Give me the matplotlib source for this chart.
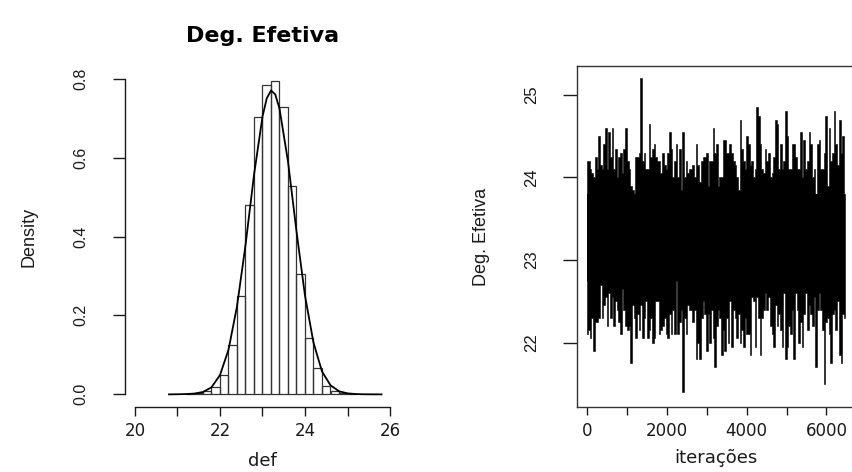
import numpy as np
import matplotlib
matplotlib.use("Agg")
import matplotlib.pyplot as plt
from matplotlib import font_manager

# histogram of the posterior sample (density scale, bins of width 0.2)
bin_inicio = [21.2, 21.4, 21.6, 21.8, 22.0, 22.2, 22.4, 22.6, 22.8, 23.0,
              23.2, 23.4, 23.6, 23.8, 24.0, 24.2, 24.4, 24.6, 24.8, 25.0]
densidade_hist = [0.001, 0.003, 0.009, 0.018, 0.049, 0.124, 0.249, 0.480, 0.703, 0.785,
                  0.793, 0.727, 0.528, 0.304, 0.144, 0.066, 0.022, 0.009, 0.003, 0.001]

# kernel density curve
dens_x = [20.8, 21.0, 21.2, 21.4, 21.6, 21.8, 22.0, 22.2, 22.4, 22.6, 22.8, 23.0,
          23.1, 23.2, 23.3, 23.4, 23.6, 23.8, 24.0, 24.2, 24.4, 24.6, 24.8, 25.0,
          25.2, 25.4, 25.8]
dens_y = [0.0, 0.0003, 0.0008, 0.002, 0.006, 0.018, 0.049, 0.113, 0.223, 0.378, 0.556, 0.704,
          0.750, 0.770, 0.760, 0.724, 0.590, 0.413, 0.250, 0.131, 0.058, 0.023, 0.008, 0.0025,
          0.0008, 0.0002, 0.0]

# trace: highest and lowest value of the chain in each small block of iterations
traco_sup = [24.2, 24.2, 24.1, 24.05, 24.0, 24.25, 24.1, 24.5, 24.15, 24.1, 24.4, 24.6, 24.1,
             24.55, 24.25, 24.6, 24.1, 24.35, 24.0, 24.25, 24.3, 24.05, 24.35, 24.6, 24.2, 24.1,
             23.9, 23.85, 23.8, 24.25, 24.25, 24.3, 25.2, 24.2, 24.3, 24.1, 24.1, 24.65, 24.25,
             24.35, 24.4, 24.25, 24.2, 24.2, 24.05, 24.3, 24.15, 24.1, 24.3, 24.55, 24.35, 24.0,
             24.2, 24.4, 24.0, 24.35, 23.85, 24.55, 24.0, 24.2, 24.05, 24.1, 24.1, 24.15, 24.0,
             24.4, 24.15, 23.95, 24.2, 24.25, 24.25, 24.3, 23.9, 24.2, 24.2, 24.6, 24.3, 24.4,
             23.9, 24.0, 24.0, 24.45, 24.45, 24.3, 24.3, 24.4, 24.3, 24.2, 24.15, 24.0, 23.85,
             24.7, 24.35, 24.2, 24.1, 24.5, 24.4, 24.15, 24.2, 24.0, 24.1, 24.85, 24.75, 24.4,
             24.1, 24.05, 24.35, 24.2, 24.3, 24.0, 24.05, 24.25, 24.7, 24.65, 24.1, 24.4, 24.1,
             24.2, 24.8, 24.5, 24.1, 24.1, 24.4, 24.4, 24.25, 24.1, 24.1, 24.55, 24.0, 24.45,
             24.1, 24.2, 24.55, 24.4, 24.0, 24.1, 23.8, 24.4, 24.45, 24.1, 24.1, 24.3, 24.75,
             23.9, 24.6, 24.2, 24.3, 24.8, 24.4, 24.15, 24.7, 24.3, 24.5, 23.8]
traco_inf = [22.1, 22.15, 22.05, 22.3, 21.9, 22.25, 22.25, 22.3, 22.7, 22.3, 22.45, 22.55, 22.2,
             22.6, 22.3, 22.55, 22.2, 22.5, 22.4, 22.25, 22.1, 22.65, 22.4, 22.2, 22.15, 22.2,
             21.75, 22.45, 22.3, 22.05, 22.35, 22.15, 22.45, 22.05, 22.3, 22.5, 22.05, 22.15,
             22.3, 22.0, 22.05, 22.5, 22.5, 22.1, 22.15, 22.2, 22.3, 22.1, 22.05, 22.35, 22.1,
             22.4, 22.1, 22.75, 22.1, 22.25, 22.4, 21.4, 22.3, 22.1, 22.45, 22.4, 22.4, 22.25,
             22.4, 21.8, 22.0, 21.8, 22.3, 22.5, 22.35, 21.9, 22.35, 22.0, 22.4, 22.05, 21.7,
             22.2, 22.4, 22.3, 21.85, 22.15, 21.9, 22.3, 22.0, 22.5, 21.95, 22.4, 22.3, 22.05,
             22.35, 22.0, 22.15, 21.95, 22.3, 22.1, 22.1, 21.85, 22.55, 22.5, 21.95, 22.55,
             22.3, 21.85, 22.3, 22.4, 22.6, 22.4, 22.55, 22.2, 22.1, 21.95, 22.45, 22.2, 22.35,
             22.15, 21.95, 22.6, 21.8, 21.95, 22.2, 22.1, 22.4, 21.8, 22.6, 22.4, 22.0, 22.25,
             21.95, 22.35, 22.6, 22.15, 22.45, 22.35, 22.2, 22.55, 21.7, 22.4, 22.6, 22.4, 22.15,
             21.5, 22.25, 22.3, 22.1, 21.75, 22.35, 22.4, 22.15, 22.5, 21.85, 21.75, 22.35, 22.3,
             22.3]
n_iter = 6457

n = min(len(traco_sup), len(traco_inf))
iteracoes = np.linspace(1, n_iter, n)
sup = np.array(traco_sup[:n])
inf = np.array(traco_inf[:n])

cor = "#1a1a1a"
instaladas = {f.name for f in font_manager.fontManager.ttflist}
if "Liberation Sans Narrow" in instaladas:
    narrow = ["Liberation Sans Narrow", "DejaVu Sans"]
else:
    narrow = ["Liberation Sans", "DejaVu Sans"]

fig = plt.figure(figsize=(8.53, 4.72), dpi=100)
W, H = 853.0, 472.0

# ---- left: histogram + density
ax1 = fig.add_axes([124.8 / W, (H - 407) / H, 275.4 / W, 341 / H])
ax1.bar(bin_inicio, densidade_hist, width=0.2, align="edge", fill=False,
        edgecolor="#333333", linewidth=0.9)
ax1.plot(dens_x, dens_y, color="black", linewidth=1.3)
ax1.set_xlim(19.76, 26.24)
ax1.set_ylim(-0.032, 0.832)
for s in ["top", "right"]:
    ax1.spines[s].set_visible(False)
ax1.spines["left"].set_bounds(0, 0.8)
ax1.spines["bottom"].set_bounds(20, 26)
for s in ["left", "bottom"]:
    ax1.spines[s].set_color(cor)
    ax1.spines[s].set_linewidth(1.0)
ax1.set_xticks([20, 21, 22, 23, 24, 25, 26])
ax1.set_xticklabels(["20", "", "22", "", "24", "", "26"])
ax1.set_yticks([0.0, 0.2, 0.4, 0.6, 0.8])
ax1.set_yticklabels(["0.0", "0.2", "0.4", "0.6", "0.8"], rotation=90,
                    va="center", family=narrow, fontsize=11.5, color=cor)
ax1.tick_params(axis="y", length=8.5, width=1, color=cor, pad=18)
ax1.tick_params(axis="x", length=6.5, width=1, color=cor, pad=4,
                labelsize=12, labelcolor=cor)
ax1.text(0.5, 1 + 30 / 341, "Deg. Efetiva", transform=ax1.transAxes, ha="center",
         va="center", fontsize=16, fontweight="bold", color="black")
ax1.set_xlabel("def", fontsize=13, color=cor, va="center")
ax1.xaxis.set_label_coords(0.5, -54 / 341)
ax1.set_ylabel("Density", family=narrow, fontsize=13, color=cor, va="center")
ax1.yaxis.set_label_coords((29 - 124.8) / 275.4, 0.5)

# ---- right: trace plot, each block drawn as a column from its min to its max
ax2 = fig.add_axes([577 / W, (H - 407) / H, 278 / W, 341 / H])
# solid core of the band (between the highest minimum and the lowest maximum)
ax2.fill_between([iteracoes[0], iteracoes[-1]], inf.max(), sup.min(),
                 facecolor="black", edgecolor="none", antialiased=False)
ax2.fill_between(iteracoes, inf, sup, step="mid",
                 facecolor="black", edgecolor="black", linewidth=0.4)
ax2.set_xlim(-257, 6715)
ax2.set_ylim(21.22, 25.35)
for s in ax2.spines.values():
    s.set_color("#333333")
    s.set_linewidth(1.0)
ax2.set_xticks([0, 1000, 2000, 3000, 4000, 5000, 6000])
ax2.set_xticklabels(["0", "", "2000", "", "4000", "", "6000"])
ax2.set_yticks([22, 23, 24, 25])
ax2.set_yticklabels(["22", "23", "24", "25"], rotation=90, va="center",
                    family=narrow, fontsize=12, color=cor)
ax2.tick_params(axis="y", length=10, width=1, color=cor, pad=17)
ax2.tick_params(axis="x", length=6, width=1, color=cor, pad=4.5,
                labelsize=12, labelcolor=cor)
ax2.set_xlabel("iterações", fontsize=13, color=cor, va="center")
ax2.xaxis.set_label_coords(0.5, -51 / 341)
ax2.set_ylabel("Deg. Efetiva", family=narrow, fontsize=13, color=cor, va="center")
ax2.yaxis.set_label_coords((481.7 - 577) / 278, 0.5)

fig.savefig("out.png", dpi=100)
